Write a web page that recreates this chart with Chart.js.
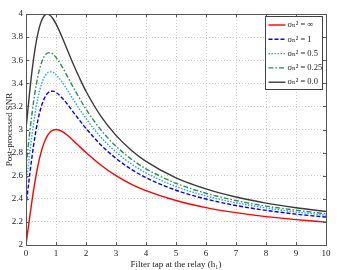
<!DOCTYPE html>
<html>
<head>
<meta charset="utf-8">
<script src="https://cdn.jsdelivr.net/npm/chart.js@4"></script>
<style>
  html, body { margin: 0; padding: 0; background: #fff; }
  #wrap { width: 338px; height: 270px; }
</style>
</head>
<body>
<div id="wrap"><canvas id="snr"></canvas></div>
<script>
// filter tap h1 values (x axis)
const taps = [0, 0.1, 0.2, 0.3, 0.4, 0.5, 0.6, 0.7, 0.8, 0.9, 1, 1.2, 1.4, 1.6, 1.8, 2, 2.5, 3, 3.5, 4, 5, 6, 7, 8, 9, 10];

// post-processed SNR, one list per noise variance
const snrInf  = [2.000, 2.198, 2.385, 2.550, 2.690, 2.800, 2.882, 2.940, 2.976, 2.994, 3.000, 2.984, 2.946, 2.899, 2.849, 2.800, 2.690, 2.600, 2.528, 2.471, 2.385, 2.324, 2.280, 2.246, 2.220, 2.198];
const snrOne  = [2.333, 2.558, 2.764, 2.941, 3.084, 3.190, 3.263, 3.308, 3.329, 3.332, 3.321, 3.275, 3.212, 3.142, 3.075, 3.010, 2.865, 2.750, 2.657, 2.583, 2.474, 2.398, 2.342, 2.300, 2.267, 2.242];
const snrHalf = [2.500, 2.738, 2.952, 3.133, 3.276, 3.380, 3.448, 3.486, 3.499, 3.494, 3.475, 3.412, 3.333, 3.250, 3.170, 3.095, 2.932, 2.805, 2.704, 2.624, 2.506, 2.425, 2.366, 2.321, 2.286, 2.258];
const snrQtr  = [2.667, 2.916, 3.138, 3.323, 3.466, 3.566, 3.629, 3.660, 3.666, 3.652, 3.624, 3.545, 3.451, 3.354, 3.262, 3.176, 2.995, 2.855, 2.746, 2.660, 2.534, 2.448, 2.385, 2.337, 2.301, 2.270];
const snrZero = [3.000, 3.270, 3.506, 3.696, 3.837, 3.931, 3.983, 4.000, 3.989, 3.959, 3.914, 3.801, 3.675, 3.552, 3.437, 3.331, 3.113, 2.949, 2.823, 2.724, 2.582, 2.486, 2.416, 2.363, 2.323, 2.290];

const legendLabels = ['σ\u2099\u00B2 = ∞', 'σ\u2099\u00B2 = 1', 'σ\u2099\u00B2 = 0.5', 'σ\u2099\u00B2 = 0.25', 'σ\u2099\u00B2 = 0.0'];

const serif = '"Liberation Serif", "DejaVu Serif", serif';

const toPoints = (ys) => taps.map((x, i) => ({ x: x, y: ys[i] }));

const series = [
  { label: legendLabels[0], data: toPoints(snrInf),  color: '#ff0000', dash: [] },
  { label: legendLabels[1], data: toPoints(snrOne),  color: '#0000ff', dash: [4, 2] },
  { label: legendLabels[2], data: toPoints(snrHalf), color: '#1fa7dc', dash: [1.5, 1.5] },
  { label: legendLabels[3], data: toPoints(snrQtr),  color: '#2e8b57', dash: [5, 2, 1.5, 2] },
  { label: legendLabels[4], data: toPoints(snrZero), color: '#3a3a3a', dash: [] }
];

// matlab style box with inward ticks and a boxed legend
const matlabFrame = {
  id: 'matlabFrame',
  afterDatasetsDraw(chart) {
    const { ctx, chartArea: a, scales } = chart;
    ctx.save();
    ctx.strokeStyle = '#555';
    ctx.lineWidth = 1;
    ctx.setLineDash([]);
    ctx.strokeRect(Math.round(a.left) + 0.5, Math.round(a.top) + 0.5, Math.round(a.right - a.left), Math.round(a.bottom - a.top));
    ctx.beginPath();
    scales.x.ticks.forEach((t) => {
      const px = Math.round(scales.x.getPixelForValue(t.value)) + 0.5;
      ctx.moveTo(px, a.bottom); ctx.lineTo(px, a.bottom - 3);
      ctx.moveTo(px, a.top); ctx.lineTo(px, a.top + 3);
    });
    scales.y.ticks.forEach((t) => {
      const py = Math.round(scales.y.getPixelForValue(t.value)) + 0.5;
      ctx.moveTo(a.left, py); ctx.lineTo(a.left + 3, py);
      ctx.moveTo(a.right, py); ctx.lineTo(a.right - 3, py);
    });
    ctx.stroke();

    // legend
    const bx = 265.5, by = 16.5, bw = 57, bh = 73;
    ctx.fillStyle = '#fff';
    ctx.fillRect(bx, by, bw, bh);
    ctx.strokeStyle = '#444';
    ctx.strokeRect(bx, by, bw, bh);
    ctx.font = '8.5px ' + serif;
    ctx.textBaseline = 'middle';
    chart.data.datasets.forEach((ds, i) => {
      const y = by + 8.5 + i * 14.3;
      ctx.strokeStyle = ds.borderColor;
      ctx.lineWidth = 1.4;
      ctx.setLineDash(ds.borderDash || []);
      ctx.beginPath();
      ctx.moveTo(bx + 3, y); ctx.lineTo(bx + 20, y);
      ctx.stroke();
      ctx.setLineDash([]);
      ctx.fillStyle = '#222';
      ctx.fillText(ds.label, bx + 22, y);
    });
    ctx.restore();
  }
};

new Chart(document.getElementById('snr'), {
  type: 'line',
  data: {
    datasets: series.map((s) => ({
      label: s.label,
      data: s.data,
      borderColor: s.color,
      backgroundColor: s.color,
      borderDash: s.dash,
      borderWidth: 1.4,
      pointRadius: 0,
      cubicInterpolationMode: 'monotone',
      fill: false
    }))
  },
  options: {
    responsive: true,
    maintainAspectRatio: false,
    animation: false,
    layout: { padding: { top: 14, right: 12, left: 0, bottom: 0 } },
    plugins: {
      legend: { display: false },
      tooltip: { enabled: false }
    },
    scales: {
      x: {
        type: 'linear',
        min: 0,
        max: 10,
        ticks: { stepSize: 1, color: '#222', padding: 3, maxRotation: 0, font: { family: serif, size: 9 } },
        grid: { color: '#c8c8c8', drawTicks: false },
        border: { display: false, dash: [1, 2] },
        title: { display: true, text: 'Filter tap at the relay (h\u2081)', color: '#222', padding: { top: 2, bottom: 0 }, font: { family: serif, size: 9 } },
        afterFit: (scale) => { scale.height = 25; }
      },
      y: {
        min: 2,
        max: 4,
        ticks: {
          stepSize: 0.2,
          color: '#222',
          padding: 3,
          font: { family: serif, size: 9 },
          callback: (v) => String(Math.round(v * 10) / 10)
        },
        grid: { color: '#c8c8c8', drawTicks: false },
        border: { display: false, dash: [1, 2] },
        title: { display: true, text: 'Post-processed SNR', color: '#222', padding: { top: 4, bottom: 0 }, font: { family: serif, size: 9 } },
        afterFit: (scale) => { scale.width = 26; }
      }
    }
  },
  plugins: [matlabFrame]
});
</script>
</body>
</html>
